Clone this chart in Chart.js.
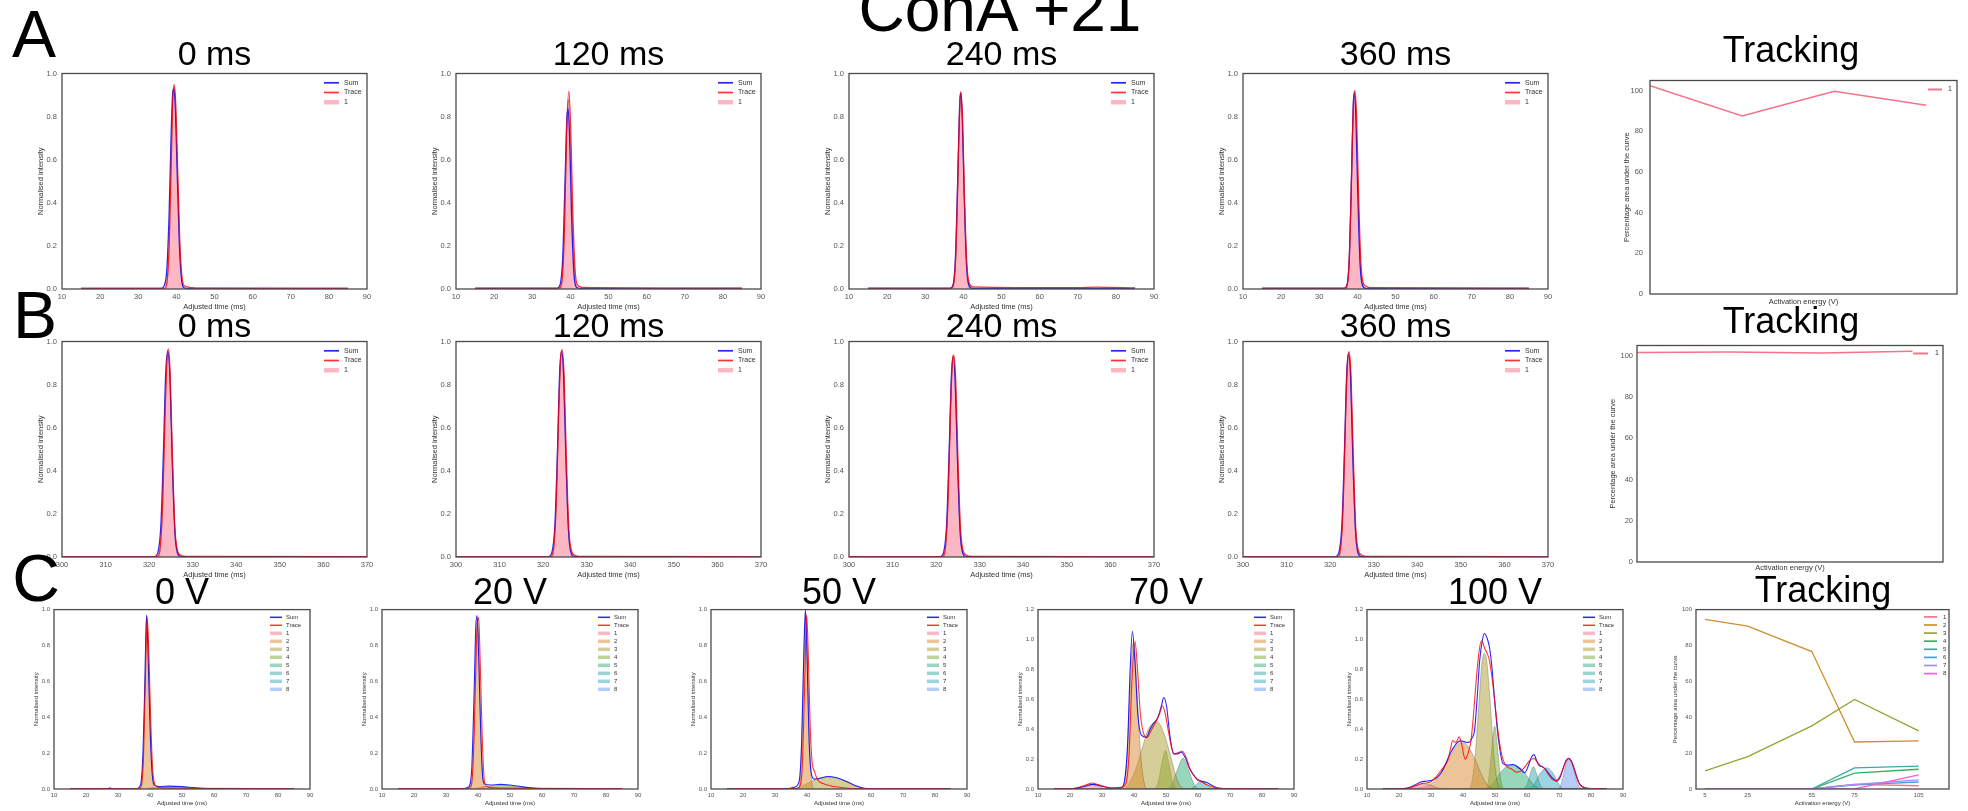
<!DOCTYPE html>
<html>
<head>
<meta charset="utf-8">
<script src="https://cdn.jsdelivr.net/npm/chart.js@4.4.0/dist/chart.umd.min.js"></script>
<style>
  body { margin: 0; width: 1968px; height: 811px; overflow: hidden; background: #fff; position: relative; }
  canvas { position: absolute; }
  .t { position: absolute; white-space: nowrap; line-height: 1; color: #000; font-family: "Liberation Sans", Arial, sans-serif; }
</style>
</head>
<body>
<script>
// ---- Données ----

// Ligne A : temps ajusté 10-90 ms
const a1Sum = [[15,0.003],[36,0.003],[36.8,0.015],[37.5,0.09],[38.1,0.35],[38.6,0.7],[39.0,0.9],[39.3,0.93],[39.7,0.85],[40.2,0.55],[40.8,0.2],[41.4,0.04],[42,0.006],[43,0.003],[85,0.003]];
const a1Trace = [[15,0.003],[36.8,0.003],[37.5,0.03],[38.1,0.2],[38.6,0.55],[39.0,0.85],[39.4,0.948],[39.8,0.87],[40.3,0.58],[40.9,0.22],[41.5,0.05],[42.2,0.014],[43.5,0.008],[45,0.004],[85,0.003]];
const a1P1 = [[15,0],[37,0],[37.6,0.04],[38.2,0.25],[38.7,0.62],[39.1,0.88],[39.4,0.94],[39.8,0.86],[40.3,0.56],[40.9,0.2],[41.5,0.04],[42.2,0.003],[43,0],[85,0]];

const a2Sum = [[15,0.003],[36.5,0.003],[37.3,0.02],[38,0.15],[38.6,0.5],[39.1,0.8],[39.4,0.838],[39.8,0.7],[40.3,0.35],[40.9,0.08],[41.5,0.01],[42.5,0.003],[85,0.003]];
const a2Trace = [[15,0.004],[37,0.004],[37.8,0.04],[38.4,0.25],[39,0.72],[39.6,0.918],[40.1,0.74],[40.6,0.38],[41.2,0.1],[41.8,0.02],[43,0.008],[85,0.004]];
const a2P1 = [[15,0],[37.2,0],[37.9,0.05],[38.5,0.3],[39.1,0.75],[39.5,0.88],[40,0.72],[40.5,0.36],[41.1,0.09],[41.7,0.01],[42.5,0],[85,0]];

const a3Sum = [[15,0.003],[36.5,0.003],[37.3,0.02],[37.9,0.14],[38.5,0.5],[39.0,0.84],[39.3,0.91],[39.7,0.8],[40.2,0.45],[40.8,0.12],[41.4,0.02],[42.3,0.003],[85,0.003]];
const a3Trace = [[15,0.004],[36.8,0.004],[37.5,0.03],[38.1,0.2],[38.7,0.62],[39.1,0.88],[39.35,0.915],[39.8,0.78],[40.3,0.42],[40.9,0.12],[41.5,0.03],[42.5,0.01],[70,0.006],[75,0.009],[85,0.005]];
const a3P1 = [[15,0],[37,0],[37.7,0.05],[38.3,0.3],[38.9,0.78],[39.3,0.9],[39.8,0.76],[40.3,0.4],[40.9,0.1],[41.5,0.01],[42.3,0],[85,0]];

const a4Sum = [[15,0.003],[36.5,0.003],[37.3,0.02],[37.9,0.15],[38.5,0.55],[38.9,0.85],[39.2,0.91],[39.6,0.8],[40.1,0.45],[40.7,0.12],[41.3,0.02],[42.2,0.003],[85,0.003]];
const a4Trace = [[15,0.004],[36.8,0.004],[37.5,0.04],[38.1,0.25],[38.7,0.7],[39.05,0.89],[39.35,0.92],[39.8,0.8],[40.3,0.45],[40.9,0.13],[41.5,0.03],[42.3,0.012],[43.5,0.006],[85,0.004]];
const a4P1 = [[15,0],[37,0],[37.6,0.06],[38.2,0.32],[38.8,0.78],[39.25,0.9],[39.7,0.8],[40.2,0.45],[40.8,0.12],[41.4,0.015],[42.2,0],[85,0]];

// Ligne B : temps ajusté 300-370 ms
const b1Sum = [[300,0.002],[321.3,0.002],[322,0.02],[322.7,0.15],[323.3,0.5],[323.8,0.85],[324.3,0.955],[324.8,0.82],[325.3,0.45],[325.9,0.12],[326.5,0.02],[327.3,0.002],[370,0.002]];
const b1Trace = [[300,0.002],[321.8,0.002],[322.5,0.04],[323.1,0.25],[323.7,0.7],[324.1,0.92],[324.4,0.966],[324.8,0.86],[325.3,0.5],[325.9,0.14],[326.5,0.03],[327.3,0.008],[328.5,0.003],[370,0.002]];
const b1P1 = [[300,0],[322,0],[322.6,0.05],[323.2,0.3],[323.8,0.76],[324.3,0.95],[324.8,0.84],[325.3,0.46],[325.9,0.12],[326.5,0.015],[327.3,0],[370,0]];

const b2Sum = [[300,0.002],[321.3,0.002],[322,0.02],[322.7,0.15],[323.3,0.5],[323.8,0.86],[324.25,0.955],[324.7,0.84],[325.2,0.48],[325.8,0.13],[326.4,0.02],[327.2,0.002],[370,0.002]];
const b2Trace = [[300,0.002],[321.7,0.002],[322.4,0.04],[323,0.25],[323.6,0.7],[324,0.92],[324.35,0.962],[324.8,0.85],[325.3,0.48],[325.9,0.13],[326.5,0.03],[327.3,0.008],[328.5,0.003],[370,0.002]];
const b2P1 = [[300,0],[321.9,0],[322.5,0.05],[323.1,0.3],[323.7,0.76],[324.2,0.95],[324.7,0.84],[325.2,0.46],[325.8,0.12],[326.4,0.015],[327.2,0],[370,0]];

const b3Sum = [[300,0.002],[321,0.002],[321.7,0.02],[322.4,0.15],[323,0.5],[323.5,0.84],[323.95,0.93],[324.4,0.8],[324.9,0.45],[325.5,0.12],[326.1,0.02],[326.9,0.002],[370,0.002]];
const b3Trace = [[300,0.002],[321.4,0.002],[322.1,0.04],[322.7,0.25],[323.3,0.68],[323.7,0.9],[324.05,0.937],[324.5,0.82],[325,0.46],[325.6,0.13],[326.2,0.03],[327,0.008],[328.2,0.003],[370,0.002]];
const b3P1 = [[300,0],[321.6,0],[322.2,0.05],[322.8,0.3],[323.4,0.74],[323.95,0.92],[324.4,0.8],[324.9,0.44],[325.5,0.11],[326.1,0.015],[326.9,0],[370,0]];

const b4Sum = [[300,0.002],[321.3,0.002],[322,0.02],[322.7,0.15],[323.3,0.5],[323.8,0.85],[324.25,0.945],[324.7,0.83],[325.2,0.47],[325.8,0.13],[326.4,0.02],[327.2,0.002],[370,0.002]];
const b4Trace = [[300,0.002],[321.7,0.002],[322.4,0.04],[323,0.25],[323.6,0.7],[324,0.91],[324.35,0.953],[324.8,0.84],[325.3,0.48],[325.9,0.13],[326.5,0.03],[327.3,0.008],[328.5,0.003],[370,0.002]];
const b4P1 = [[300,0],[321.9,0],[322.5,0.05],[323.1,0.3],[323.7,0.75],[324.2,0.94],[324.7,0.83],[325.2,0.46],[325.8,0.12],[326.4,0.015],[327.2,0],[370,0]];

// Ligne C : énergie d'activation 0 / 20 / 50 / 70 / 100 V
const c1Sum = [[15,0.002],[27,0.002],[27.5,0.006],[28,0.002],[36,0.003],[37,0.02],[37.8,0.2],[38.4,0.6],[38.9,0.969],[39.4,0.75],[40,0.35],[40.7,0.08],[41.5,0.02],[43,0.014],[46,0.016],[50,0.013],[54,0.007],[58,0.003],[62,0.002],[85,0.002]];
const c1Trace = [[15,0.002],[36.5,0.002],[37.3,0.02],[38,0.2],[38.6,0.65],[39.1,0.963],[39.6,0.78],[40.2,0.4],[40.8,0.12],[41.5,0.025],[42.5,0.01],[45,0.006],[50,0.004],[85,0.002]];
const c1P2 = [[15,0],[36.8,0],[37.5,0.05],[38.1,0.3],[38.6,0.75],[39.0,0.95],[39.5,0.8],[40.1,0.4],[40.8,0.08],[41.5,0],[85,0]];
const c1P3 = [[15,0],[38,0],[40,0.006],[44,0.011],[48,0.012],[52,0.008],[56,0.003],[60,0],[85,0]];

const c2Sum = [[15,0.002],[35,0.003],[37,0.01],[38,0.1],[38.8,0.55],[39.3,0.9],[39.7,0.967],[40.2,0.75],[40.8,0.35],[41.4,0.08],[42,0.03],[44,0.022],[47,0.026],[50,0.022],[54,0.012],[58,0.004],[62,0.002],[85,0.002]];
const c2Trace = [[15,0.002],[37,0.002],[38,0.03],[38.8,0.3],[39.5,0.8],[40.2,0.957],[40.7,0.7],[41.3,0.3],[41.9,0.06],[42.5,0.015],[45,0.006],[85,0.002]];
const c2P2 = [[15,0],[37.5,0],[38.2,0.06],[38.9,0.45],[39.5,0.88],[39.9,0.95],[40.4,0.7],[41,0.25],[41.7,0.03],[42.5,0],[85,0]];
const c2P3 = [[15,0],[38,0],[41,0.01],[45,0.018],[48,0.02],[52,0.014],[56,0.005],[60,0],[85,0]];

const c3Sum = [[15,0.002],[34,0.003],[36,0.01],[37.5,0.04],[38.3,0.25],[39,0.75],[39.5,1.0],[40,0.75],[40.6,0.3],[41.3,0.09],[42.3,0.055],[44,0.06],[46.5,0.07],[49,0.064],[52,0.045],[55,0.02],[58,0.004],[62,0.002],[85,0.002]];
const c3Trace = [[15,0.002],[36,0.002],[37.5,0.01],[38.5,0.12],[39.3,0.6],[39.9,0.972],[40.4,0.75],[41,0.35],[41.6,0.15],[42.3,0.1],[43.4,0.05],[45,0.03],[48,0.015],[52,0.006],[56,0.003],[85,0.002]];
const c3P2 = [[15,0],[37,0],[37.8,0.05],[38.5,0.35],[39.1,0.8],[39.6,0.96],[40.1,0.78],[40.7,0.35],[41.4,0.06],[42,0],[85,0]];
const c3P3 = [[15,0],[36,0],[38,0.012],[40,0.03],[42,0.047],[44,0.06],[46.5,0.067],[49,0.062],[52,0.043],[55,0.018],[58,0.003],[60,0],[85,0]];

const c4Sum = [[15,0.002],[21,0.003],[24,0.015],[27.2,0.031],[30,0.02],[33,0.006],[36,0.01],[37,0.05],[38,0.3],[38.8,0.8],[39.5,1.055],[40.3,0.85],[41.2,0.5],[42.3,0.36],[43.9,0.345],[45,0.4],[46,0.435],[47.5,0.48],[48.6,0.56],[49.3,0.612],[50.2,0.55],[51.2,0.36],[52.4,0.235],[53.6,0.235],[54.8,0.246],[56,0.21],[57.3,0.14],[58.4,0.1],[59.7,0.065],[61,0.053],[62.5,0.045],[64,0.028],[65.5,0.012],[66.8,0.005],[70,0.003],[85,0.002]];
const c4Trace = [[15,0.002],[21,0.003],[24,0.02],[27,0.04],[30,0.02],[33,0.007],[36,0.012],[37.5,0.04],[38.5,0.25],[39.3,0.7],[40.3,0.99],[41.1,0.8],[42,0.5],[43.2,0.36],[44.1,0.345],[45.3,0.39],[47,0.457],[48.1,0.51],[48.9,0.557],[49.8,0.5],[50.8,0.38],[51.8,0.27],[52.7,0.235],[54,0.245],[55.1,0.253],[56.3,0.21],[57.4,0.14],[58.4,0.1],[60,0.06],[61.3,0.045],[62.6,0.03],[64.5,0.014],[66,0.006],[68,0.003],[85,0.002]];
const c4P1 = [[15,0],[21,0],[23.5,0.008],[25.5,0.022],[27,0.03],[28.5,0.022],[30.5,0.008],[33,0],[85,0]];
const c4P2 = [[15,0],[35.5,0],[36.8,0.03],[37.8,0.22],[38.7,0.65],[39.4,0.93],[39.9,0.98],[40.5,0.85],[41.3,0.5],[42.2,0.2],[43.2,0.04],[44,0],[85,0]];
const c4P3 = [[15,0],[36.6,0],[38.5,0.04],[40.5,0.13],[42.5,0.27],[44.5,0.4],[46,0.445],[47,0.452],[48.2,0.43],[50,0.33],[51.8,0.19],[53.2,0.08],[54.5,0.02],[56,0],[85,0]];
const c4P4 = [[15,0],[46,0],[47.5,0.04],[48.7,0.17],[49.8,0.257],[50.9,0.17],[52.1,0.04],[53.5,0],[85,0]];
const c4P5 = [[15,0],[50.5,0],[52,0.04],[53.6,0.13],[55.3,0.208],[57,0.13],[58.6,0.04],[60,0],[85,0]];
const c4P6 = [[15,0],[57,0],[58.8,0.015],[60,0.04],[61,0.053],[62.2,0.04],[63.5,0.015],[65.5,0],[85,0]];

const c5Sum = [[15,0.002],[20,0.002],[22.6,0.005],[24.8,0.025],[26.8,0.047],[28.9,0.053],[30.5,0.06],[32,0.08],[33.2,0.11],[34.1,0.146],[35.2,0.2],[36.2,0.246],[37.3,0.285],[38.3,0.313],[39.4,0.322],[40.4,0.317],[41.2,0.312],[42,0.313],[42.8,0.34],[43.6,0.39],[44.4,0.6],[45.2,0.856],[46,0.99],[46.7,1.04],[47.5,1.01],[48.3,0.945],[49.1,0.8],[49.9,0.59],[51,0.346],[52.5,0.17],[54.1,0.16],[55.7,0.164],[57.8,0.135],[59.3,0.109],[60.5,0.16],[61.4,0.213],[62.2,0.23],[63,0.19],[63.8,0.157],[65.1,0.146],[66.4,0.115],[67.7,0.08],[69.3,0.053],[70.4,0.08],[71.4,0.146],[72.2,0.19],[73,0.206],[73.8,0.19],[74.6,0.146],[75.4,0.09],[76.1,0.047],[77,0.02],[78.2,0.007],[80,0.002],[85,0.002]];
const c5Trace = [[15,0.002],[20,0.002],[23,0.008],[25,0.02],[26.8,0.035],[28.5,0.04],[29.9,0.047],[31.5,0.08],[33.1,0.124],[34.2,0.155],[35.2,0.19],[36,0.26],[36.8,0.324],[37.3,0.315],[37.8,0.313],[38.3,0.33],[38.8,0.35],[39.2,0.33],[39.6,0.3],[40.2,0.23],[40.7,0.2],[41.1,0.21],[41.5,0.235],[42,0.27],[42.5,0.324],[43.3,0.5],[44.1,0.72],[44.9,0.9],[45.7,0.99],[46.2,0.98],[46.7,0.945],[47.5,0.91],[48.3,0.856],[49.1,0.74],[49.9,0.59],[50.7,0.43],[51.5,0.3],[52.2,0.22],[53,0.17],[54,0.145],[55.1,0.135],[56,0.12],[56.7,0.113],[57.5,0.115],[58.3,0.124],[59.4,0.15],[60.4,0.18],[61.3,0.198],[62.2,0.204],[63.2,0.18],[64.1,0.157],[65,0.145],[65.6,0.135],[66.6,0.1],[67.7,0.069],[68.5,0.058],[69.3,0.058],[70.4,0.09],[71.4,0.142],[72.2,0.185],[73,0.204],[73.8,0.185],[74.6,0.142],[75.4,0.09],[76.1,0.047],[77,0.02],[78.2,0.009],[80,0.003],[85,0.002]];
const c5P1 = [[15,0],[21,0],[23.5,0.01],[25.5,0.025],[27.5,0.035],[29.5,0.028],[31.5,0.012],[33.5,0],[85,0]];
const c5P2 = [[15,0],[23.6,0],[26,0.006],[28.5,0.018],[31,0.05],[33.5,0.12],[36,0.22],[38,0.29],[39.9,0.313],[41.8,0.28],[43.7,0.2],[45.5,0.11],[47,0.045],[48.5,0.01],[50,0],[85,0]];
const c5P3 = [[15,0],[41.5,0],[42.8,0.05],[43.9,0.25],[45,0.58],[45.9,0.84],[46.7,0.907],[47.5,0.84],[48.5,0.58],[49.5,0.27],[50.5,0.07],[51.5,0.01],[52.5,0],[85,0]];
const c5P4 = [[15,0],[47,0],[48,0.06],[49,0.27],[49.9,0.42],[50.8,0.27],[51.8,0.06],[53,0],[85,0]];
const c5P5 = [[15,0],[46,0],[48.5,0.02],[50.5,0.07],[52.5,0.13],[55.7,0.16],[58.5,0.13],[60.5,0.07],[62.5,0.02],[64.5,0],[85,0]];
const c5P6 = [[15,0],[58.5,0],[60,0.03],[61,0.1],[62,0.15],[63,0.1],[64,0.03],[65.5,0],[85,0]];
const c5P7 = [[15,0],[60,0],[62,0.025],[64,0.1],[66.2,0.142],[68.3,0.1],[70,0.03],[71.5,0],[85,0]];
const c5P8 = [[15,0],[69.5,0],[70.8,0.04],[72,0.15],[73.2,0.206],[74.4,0.15],[75.7,0.04],[77.5,0],[85,0]];

// Suivi (Tracking) : pourcentage d'aire sous la courbe
const trackAX = [0, 120, 240, 360];
const trackAY = [102.4, 87.6, 99.7, 92.8];
const trackBX = [0, 120, 240, 360];
const trackBY = [101.6, 101.8, 101.4, 102.2];
const trackCX = [5, 25, 55, 75, 105];
const trackC1 = [0, 0, 0, 2.6, 1.8];
const trackC2 = [94.5, 90.8, 76.6, 26.2, 26.8];
const trackC3 = [10.1, 18, 35.2, 49.9, 32.4];
const trackC4 = [0, 0, 0, 8.8, 11];
const trackC5 = [0, 0, 0, 11.8, 12.7];
const trackC6 = [0, 0, 0, 2.3, 3.9];
const trackC7 = [0, 0, 0, 2.5, 5.1];
const trackC8 = [0, 0, 0, 0, 7.9];

// Étiquettes
const titlesA = ['0 ms', '120 ms', '240 ms', '360 ms'];
const titlesC = ['0 V', '20 V', '50 V', '70 V', '100 V'];

// ---- Styles ----
const FONT = '"Liberation Sans", Arial, sans-serif';
const FILL_COLS = ['#f77189', '#dc8932', '#ae9d31', '#77ab31', '#33b07a', '#36ada4', '#38a9c5', '#6e9bf4'];
const TRACK_COLS = ['#f77189', '#ce9032', '#97a431', '#32b166', '#36ada4', '#39a7d0', '#a48cf4', '#f561dd'];
const SUM_COL = 'rgba(0,0,255,0.85)';
const TRACE_COL = 'rgba(255,0,0,0.8)';
const TICK_COL = '#555';
const LAB_COL = '#333';

Chart.defaults.font.family = FONT;

function rgba(hex, a) {
    const n = parseInt(hex.slice(1), 16);
    return `rgba(${n >> 16},${(n >> 8) & 255},${n & 255},${a})`;
}

function pts(arr) {
    return arr.map(p => ({ x: p[0], y: p[1] }));
}

// Cadre autour de la zone du graphique + légende dans le coin haut droit
const boxLegend = {
    id: 'boxLegend',
    afterDatasetsDraw(chart, args, o) {
        const { ctx, chartArea: a } = chart;
        ctx.save();
        ctx.strokeStyle = '#4a4a4a';
        ctx.lineWidth = 1.3;
        ctx.strokeRect(a.left, a.top, a.right - a.left, a.bottom - a.top);
        ctx.font = o.size + 'px ' + FONT;
        ctx.textBaseline = 'middle';
        chart.data.datasets.forEach((ds, i) => {
            const y = a.top + o.top + i * o.row;
            const x0 = a.right - o.right;
            if (ds.fill) {
                ctx.fillStyle = ds.backgroundColor;
                ctx.fillRect(x0, y - o.box / 2, o.sample, o.box);
            } else {
                ctx.strokeStyle = ds.borderColor;
                ctx.lineWidth = ds.borderWidth + 0.4;
                ctx.beginPath();
                ctx.moveTo(x0, y);
                ctx.lineTo(x0 + o.sample, y);
                ctx.stroke();
            }
            ctx.fillStyle = LAB_COL;
            ctx.fillText(ds.label, a.right - o.text, y);
        });
        ctx.restore();
    }
};

// Texte HTML positionné par sa ligne de base
function addText(txt, cx, base, size) {
    const d = document.createElement('div');
    d.className = 't';
    d.textContent = txt;
    d.style.fontSize = size + 'px';
    d.style.top = (base - 0.8465 * size) + 'px';
    d.style.left = cx + 'px';
    d.style.transform = 'translateX(-50%)';
    document.body.appendChild(d);
}

// Crée un canvas dont la zone de tracé tombe exactement sur box
function build(box, pad, datasets, scales, legendOpt) {
    const c = document.createElement('canvas');
    const W = box.w + pad.L + pad.R, H = box.h + pad.T + pad.B;
    c.width = W;
    c.height = H;
    c.style.left = (box.l - pad.L) + 'px';
    c.style.top = (box.t - pad.T) + 'px';
    c.style.width = W + 'px';
    c.style.height = H + 'px';
    document.body.appendChild(c);
    scales.x.afterFit = s => { s.height = pad.B; };
    scales.y.afterFit = s => { s.width = pad.L; };
    return new Chart(c, {
        type: 'line',
        data: { datasets },
        options: {
            responsive: false,
            animation: false,
            devicePixelRatio: 1,
            layout: { padding: { left: 0, top: pad.T, right: pad.R, bottom: 0 } },
            elements: { point: { radius: 0 } },
            plugins: { legend: { display: false }, tooltip: { enabled: false }, boxLegend: legendOpt },
            scales
        },
        plugins: [boxLegend]
    });
}

function axis(o) {
    return {
        type: 'linear',
        min: o.min,
        max: o.max,
        grid: { display: false, drawTicks: false },
        border: { display: false },
        ticks: {
            display: o.ticks !== false,
            stepSize: o.step,
            includeBounds: false,
            autoSkip: false,
            maxRotation: 0,
            padding: o.tp,
            font: { size: o.fs },
            color: TICK_COL,
            callback: o.fmt || (v => String(v))
        },
        title: { display: true, text: o.title, color: LAB_COL, font: { size: o.fs }, padding: o.ttp }
    };
}

function distSets(sum, trace, parts, lw) {
    const smooth = { fill: false, cubicInterpolationMode: 'monotone' };
    const ds = [
        { label: 'Sum', data: pts(sum), borderColor: SUM_COL, borderWidth: lw, order: 1, ...smooth },
        { label: 'Trace', data: pts(trace), borderColor: TRACE_COL, borderWidth: lw, order: 0, ...smooth }
    ];
    parts.forEach((p, i) => ds.push({
        label: String(i + 1), data: pts(p), fill: 'origin', cubicInterpolationMode: 'monotone',
        backgroundColor: rgba(FILL_COLS[i], 0.5), borderColor: 'rgba(60,45,30,0.45)', borderWidth: 0.6, order: 2 + i
    }));
    return ds;
}

// ---- Mise en page ----
const leftsAB = [62, 456, 849, 1243];
const leftsC = [54, 382, 711, 1038, 1367];
const padAB = { L: 34, T: 8, R: 12, B: 24 };
const padC = { L: 30, T: 6, R: 10, B: 20 };
const legAB = { top: 9.3, row: 9.7, right: 43, sample: 15, text: 23, box: 4.5, size: 7 };
const legC = { top: 7.7, row: 8.0, right: 40, sample: 12, text: 24, box: 3.5, size: 6 };
const fmt1 = v => v.toFixed(1);

function abScales(min, max) {
    return {
        x: axis({ min, max, step: 10, tp: 3.5, fs: 7.5, title: 'Adjusted time (ms)', ttp: { top: 0, bottom: 1.5 } }),
        y: axis({ min: 0, max: 1, step: 0.2, tp: 5, fs: 7.5, fmt: fmt1, title: 'Normalised intensity', ttp: { top: 8.5, bottom: 0 } })
    };
}

function cScales(ymax) {
    return {
        x: axis({ min: 10, max: 90, step: 10, tp: 2.4, fs: 6, title: 'Adjusted time (ms)', ttp: { top: 0, bottom: 2.4 } }),
        y: axis({ min: 0, max: ymax, step: 0.2, tp: 4, fs: 6, fmt: fmt1, title: 'Normalised intensity', ttp: { top: 8.4, bottom: 0 } })
    };
}

// Ligne A
const rowA = [[a1Sum, a1Trace, a1P1], [a2Sum, a2Trace, a2P1], [a3Sum, a3Trace, a3P1], [a4Sum, a4Trace, a4P1]];
rowA.forEach((r, i) => {
    build({ l: leftsAB[i], t: 72, w: 305, h: 217 }, padAB, distSets(r[0], r[1], [r[2]], 1.3), abScales(10, 90), legAB);
    addText(titlesA[i], leftsAB[i] + 152.5, 65, 34);
});

// Ligne B
const rowB = [[b1Sum, b1Trace, b1P1], [b2Sum, b2Trace, b2P1], [b3Sum, b3Trace, b3P1], [b4Sum, b4Trace, b4P1]];
rowB.forEach((r, i) => {
    build({ l: leftsAB[i], t: 340, w: 305, h: 217 }, padAB, distSets(r[0], r[1], [r[2]], 1.3), abScales(300, 370), legAB);
    addText(titlesA[i], leftsAB[i] + 152.5, 337, 34);
});

// Ligne C
const rowC = [
    [c1Sum, c1Trace, [[], c1P2, c1P3, [], [], [], [], []], 1.0],
    [c2Sum, c2Trace, [[], c2P2, c2P3, [], [], [], [], []], 1.0],
    [c3Sum, c3Trace, [[], c3P2, c3P3, [], [], [], [], []], 1.0],
    [c4Sum, c4Trace, [c4P1, c4P2, c4P3, c4P4, c4P5, c4P6, [], []], 1.2],
    [c5Sum, c5Trace, [c5P1, c5P2, c5P3, c5P4, c5P5, c5P6, c5P7, c5P8], 1.2]
];
rowC.forEach((r, i) => {
    build({ l: leftsC[i], t: 608, w: 256, h: 181 }, padC, distSets(r[0], r[1], r[2], 1.1), cScales(r[3]), legC);
    addText(titlesC[i], leftsC[i] + 128, 604, 36);
});

// Graphiques de suivi (segments droits)
function trackLine(label, xs, ys, col, lw, order) {
    return {
        label, data: xs.map((x, k) => ({ x, y: ys[k] })), borderColor: col, borderWidth: lw,
        fill: false, tension: 0, cubicInterpolationMode: 'default', order
    };
}

function trackScalesAB(ttpY, ttpX, tp) {
    return {
        x: axis({ min: 0, max: 400, ticks: false, fs: 7.5, title: 'Activation energy (V)', ttp: { top: 0, bottom: ttpX } }),
        y: axis({ min: 0, max: 105, step: 20, tp, fs: 7.5, title: 'Percentage area under the curve', ttp: { top: ttpY, bottom: 0 } })
    };
}

build({ l: 1650, t: 77, w: 307, h: 217 }, { L: 36, T: 8, R: 8, B: 14 },
    [trackLine('1', trackAX, trackAY, TRACK_COLS[0], 1.5, 0)], trackScalesAB(8.5, 1.5, 7),
    { top: 9, row: 9.7, right: 29, sample: 14, text: 9, box: 4, size: 7 });
addText('Tracking', 1791, 62, 36);

build({ l: 1637, t: 345, w: 306, h: 217 }, { L: 36, T: 8, R: 8, B: 14 },
    [trackLine('1', trackBX, trackBY, TRACK_COLS[0], 1.5, 0)], trackScalesAB(7.5, 3.5, 4),
    { top: 8, row: 9.7, right: 30, sample: 15, text: 8, box: 4, size: 7 });
addText('Tracking', 1791, 333, 36);

const trackC = [trackC1, trackC2, trackC3, trackC4, trackC5, trackC6, trackC7, trackC8];
const trackCScales = {
    x: axis({ min: 0.8, max: 119.2, tp: 2.4, fs: 6, title: 'Activation energy (V)', ttp: { top: 0, bottom: 2.4 } }),
    y: axis({ min: 0, max: 100, step: 20, tp: 4, fs: 6, title: 'Percentage area under the curve', ttp: { top: 5.4, bottom: 0 } })
};
trackCScales.x.afterBuildTicks = s => { s.ticks = trackCX.map(v => ({ value: v })); };
build({ l: 1696, t: 608, w: 253, h: 181 }, { L: 30, T: 6, R: 10, B: 20 },
    trackC.map((ys, i) => trackLine(String(i + 1), trackCX, ys, TRACK_COLS[i], 1.3, -i)), trackCScales,
    { top: 7.3, row: 8.1, right: 25, sample: 13, text: 6, box: 3.5, size: 6 });
addText('Tracking', 1823, 602, 36);

// Lettres de panneaux et titre général
addText('ConA +21', 1000, 31, 64);
addText('A', 34, 57, 66);
addText('B', 35, 338, 66);
addText('C', 36, 601, 66);
</script>
</body>
</html>
